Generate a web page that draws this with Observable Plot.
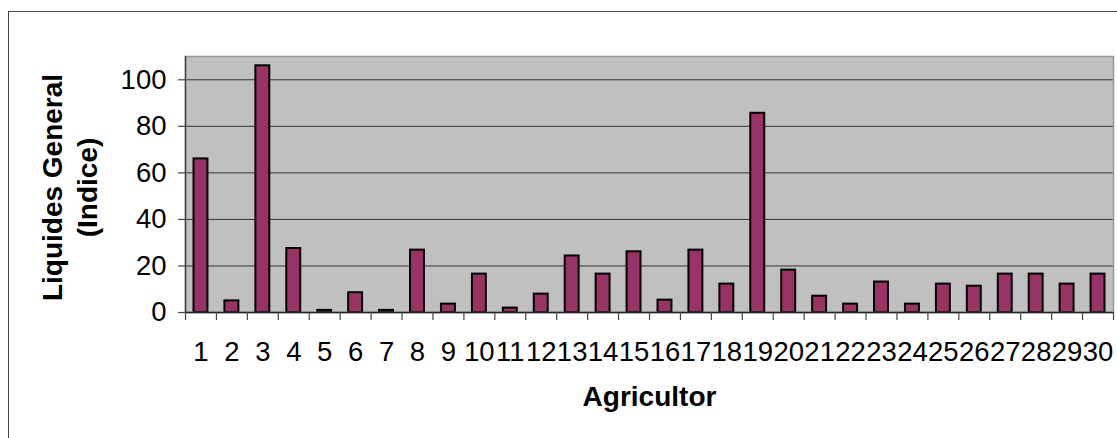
<!DOCTYPE html>
<html><head><meta charset="utf-8">
<script src="https://cdn.jsdelivr.net/npm/d3@7"></script>
<script src="https://cdn.jsdelivr.net/npm/@observablehq/plot@0.6"></script>
<style>
body{margin:0;background:#fff;overflow:hidden}
#wrap{position:relative;width:1117px;height:438px}
#wrap svg{display:block}
#border{position:absolute;left:8px;top:11px;width:1200px;height:500px;border-left:1.5px solid #444;border-top:1.5px solid #444;pointer-events:none}
</style>
</head><body><div id="wrap"><div id="chart"></div><div id="border"></div></div>
<script>
const categories = [1,2,3,4,5,6,7,8,9,10,11,12,13,14,15,16,17,18,19,20,21,22,23,24,25,26,27,28,29,30];
const values = [66, 5, 106, 27.5, 0.9, 8.5, 0.9, 26.8, 3.6, 16.5, 1.9, 7.9, 24.3, 16.5, 26.1, 5.3, 26.8, 12.2, 85.6, 18.2, 7, 3.6, 13.1, 3.6, 12.2, 11.3, 16.5, 16.5, 12.2, 16.5];
const yTicks = [0, 20, 40, 60, 80, 100];
const xTitle = "Agricultor";
const yTitle = "Liquides General\n(Indice)";

const data = categories.map((c, i) => ({a: c, v: values[i]}));
const boundaries = [categories[0] - 0.5, ...categories.map(c => c + 0.5)];
const font = "'Liberation Sans', Arial, sans-serif";

const chart = Plot.plot({
  width: 1117,
  height: 438,
  marginLeft: 185,
  marginRight: 4,
  marginTop: 56,
  marginBottom: 126,
  style: {fontFamily: font, background: "#fff", color: "#000"},
  x: {type: "linear", domain: [boundaries[0], boundaries[boundaries.length - 1]]},
  y: {domain: [0, 110]},
  marks: [
    Plot.frame({fill: "#c0c0c0", stroke: null}),
    Plot.ruleY(yTicks.filter(v => v > 0), {stroke: "#333", strokeWidth: 1}),
    Plot.rectY(data, {x1: d => d.a - 0.5, x2: d => d.a + 0.5, y: "v", insetLeft: 8.5, insetRight: 8.5, fill: "#993366", stroke: "#000", strokeWidth: 2}),
    Plot.frame({stroke: "#999", strokeWidth: 1.5}),
    Plot.ruleX([boundaries[0]], {stroke: "#444", strokeWidth: 1.5}),
    Plot.ruleY([0], {stroke: "#222", strokeWidth: 1.5}),
    Plot.axisX(boundaries, {tickSize: 8, tickFormat: () => "", stroke: "#444", strokeWidth: 1.2, label: null}),
    Plot.axisX(categories, {tickSize: 0, tickPadding: 29, fontSize: 27.5, label: null, tickFormat: d => String(d)}),
    Plot.axisY(yTicks, {tickSize: 7, tickPadding: 12, fontSize: 27.5, stroke: "#444", strokeWidth: 1.2, label: null}),
    Plot.text([yTitle], {text: d => d, frameAnchor: "left", textAnchor: "middle", rotate: -90, dx: -117, dy: 3, fontSize: 28, fontWeight: "bold", lineHeight: 1.25}),
    Plot.text([xTitle], {text: d => d, frameAnchor: "bottom", dy: 93, fontSize: 28, fontWeight: "bold"})
  ]
});
document.getElementById("chart").appendChild(chart);
</script>
</body></html>
